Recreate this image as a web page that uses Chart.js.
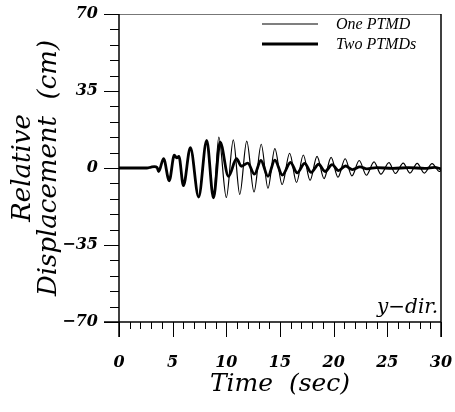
<!DOCTYPE html>
<html>
<head>
<meta charset="utf-8">
<script src="https://cdn.jsdelivr.net/npm/chart.js@4.4.1/dist/chart.umd.min.js"></script>
<style>
html, body { margin: 0; padding: 0; background: #fff; }
</style>
</head>
<body>
<canvas id="dispChart" width="455" height="412"></canvas>
<script>
// One PTMD (thin line) - turning points (t in sec, disp in cm)
const oneTime = [0, 2.6, 3.0, 3.3, 3.55, 3.7, 4.15, 4.68, 5.15, 5.38, 5.58, 6.0, 6.65, 7.42, 8.17, 8.8,
  9.3, 10.0, 10.65, 11.25, 11.9, 12.58, 13.25, 13.88, 14.52, 15.2, 15.9, 16.54, 17.17, 17.8, 18.45,
  19.1, 19.76, 20.4, 21.07, 21.7, 22.38, 23.05, 23.76, 24.4, 25.15, 25.75, 26.48, 27.1, 27.78, 28.45,
  29.17, 29.85, 30];
const oneDisp = [0, 0, 0.4, 0.6, 0.2, -1.6, 4.3, -5.8, 5.8, 4.6, 5.3, -8.0, 9.3, -13.2, 12.6, -13.6,
  14.0, -13.4, 12.8, -12.0, 12.2, -10.9, 10.8, -9.2, 8.8, -7.5, 6.7, -6.6, 5.9, -5.6, 5.3,
  -4.8, 4.8, -4.2, 4.2, -3.6, 3.4, -3.3, 2.8, -2.8, 2.4, -2.5, 2.2, -2.3, 2.1, -2.3,
  2.0, -1.6, -1.0];

// Two PTMDs (thick line)
const twoTime = [0, 2.6, 3.0, 3.3, 3.55, 3.7, 4.15, 4.68, 5.15, 5.38, 5.58, 6.0, 6.65, 7.42, 8.17, 8.8,
  9.42, 10.2, 10.95, 11.4, 12.0, 12.62, 13.22, 13.88, 14.52, 15.22, 15.98, 16.6, 17.3, 17.9, 18.6,
  19.2, 19.85, 20.45, 21.1, 21.75, 22.45, 23.1, 24.0, 25.5, 27.0, 28.5, 29.4, 30];
const twoDisp = [0, 0, 0.4, 0.6, 0.2, -1.6, 4.3, -5.8, 5.8, 4.6, 5.3, -8.0, 9.3, -13.2, 12.6, -13.6,
  11.8, -3.8, 4.2, 0.8, 2.2, -2.8, 3.4, -3.8, 3.6, -3.2, 2.5, -2.2, 2.1, -2.0, 1.7,
  -1.6, 1.5, -1.2, 0.9, -0.7, 0.5, -0.4, 0.2, -0.2, 0.2, -0.2, 0.3, -0.4];

const seriesNames = ['One PTMD', 'Two PTMDs'];
const xRange = [0, 30];
const yRange = [-70, 70];
const xMajorStep = 5, xMinorStep = 1;
const yMajorStep = 35, yMinorStep = 7;

const toPts = (t, v) => t.map((x, i) => ({ x: x, y: v[i] }));
const minus = v => (v < 0 ? '\u2212' + Math.abs(v) : String(v));

const serif = 'DejaVu Serif';
const tickFont = { family: serif, size: 16, style: 'italic', weight: 'bold' };

// frame, tick marks, legend and the y-dir note
const decor = {
  id: 'decor',
  afterDraw(chart) {
    const { ctx, chartArea: a, scales: { x, y } } = chart;
    ctx.save();
    ctx.strokeStyle = '#000';
    const seg = (x1, y1, x2, y2, w) => {
      ctx.lineWidth = w;
      ctx.beginPath();
      ctx.moveTo(x1, y1);
      ctx.lineTo(x2, y2);
      ctx.stroke();
    };
    // frame
    ctx.strokeStyle = '#777';
    seg(a.left, a.top + 0.5, a.right, a.top + 0.5, 1);
    ctx.strokeStyle = '#000';
    seg(a.left, a.top, a.left, a.bottom + 15, 1.5);
    seg(a.right, a.top, a.right, a.bottom + 15, 1.5);
    seg(a.left - 15, a.bottom, a.right, a.bottom, 1.5);

    // y ticks (outside, to the left)
    for (let v = yRange[0]; v <= yRange[1]; v += yMinorStep) {
      const py = Math.round(y.getPixelForValue(v)) + 0.5;
      const len = v % yMajorStep === 0 ? 15 : 9;
      seg(a.left - len, py, a.left, py, 1);
    }
    // x ticks (outside, downwards)
    for (let t = xRange[0]; t <= xRange[1]; t += xMinorStep) {
      const px = Math.round(x.getPixelForValue(t)) + 0.5;
      const len = t % xMajorStep === 0 ? 15 : 7;
      seg(px, a.bottom, px, a.bottom + len, 1);
    }

    // legend
    ctx.fillStyle = '#000';
    ctx.font = 'italic 16px "Liberation Serif"';
    ctx.textBaseline = 'middle';
    ctx.textAlign = 'left';
    chart.data.datasets.forEach((ds, i) => {
      const ly = 24 + i * 20;
      seg(262, ly, 318, ly, ds.borderWidth);
      ctx.fillText(ds.label, 336, ly + 1);
    });

    // direction note
    ctx.font = 'italic 20px "' + serif + '"';
    ctx.textAlign = 'right';
    ctx.textBaseline = 'alphabetic';
    ctx.fillText('y\u2212dir.', a.right - 3, a.bottom - 9);
    ctx.restore();
  }
};

new Chart(document.getElementById('dispChart'), {
  type: 'line',
  data: {
    datasets: [
      {
        label: seriesNames[0],
        data: toPts(oneTime, oneDisp),
        borderColor: '#000',
        borderWidth: 1.2,
        pointRadius: 0,
        cubicInterpolationMode: 'monotone',
        order: 1
      },
      {
        label: seriesNames[1],
        data: toPts(twoTime, twoDisp),
        borderColor: '#000',
        borderWidth: 2.8,
        pointRadius: 0,
        cubicInterpolationMode: 'monotone',
        order: 0
      }
    ]
  },
  options: {
    responsive: false,
    animation: false,
    devicePixelRatio: 1,
    layout: { padding: { top: 14, right: 14, left: 0, bottom: 0 } },
    plugins: { legend: { display: false }, tooltip: { enabled: false } },
    scales: {
      x: {
        type: 'linear',
        min: xRange[0],
        max: xRange[1],
        grid: { display: false, drawTicks: false },
        border: { display: false },
        ticks: { stepSize: xMajorStep, padding: 31, color: '#000', font: tickFont, maxRotation: 0 },
        title: {
          display: true,
          text: 'Time  (sec)',
          color: '#000',
          font: { family: serif, size: 25, style: 'italic', lineHeight: 1.1 },
          padding: { top: 0, bottom: 14 }
        },
        afterFit(s) { s.height = 90; s.paddingLeft = 0; s.paddingRight = 0; }
      },
      y: {
        type: 'linear',
        min: yRange[0],
        max: yRange[1],
        grid: { display: false, drawTicks: false },
        border: { display: false },
        ticks: { stepSize: yMajorStep, padding: 21, color: '#000', font: tickFont, callback: v => minus(v) },
        title: {
          display: true,
          text: ['Relative', 'Displacement  (cm)'],
          color: '#000',
          font: { family: serif, size: 26, style: 'italic', lineHeight: 1.0 },
          padding: { top: 10, bottom: 0 }
        },
        afterFit(s) { s.width = 119; s.paddingTop = 0; s.paddingBottom = 0; }
      }
    }
  },
  plugins: [decor]
});
</script>
</body>
</html>
